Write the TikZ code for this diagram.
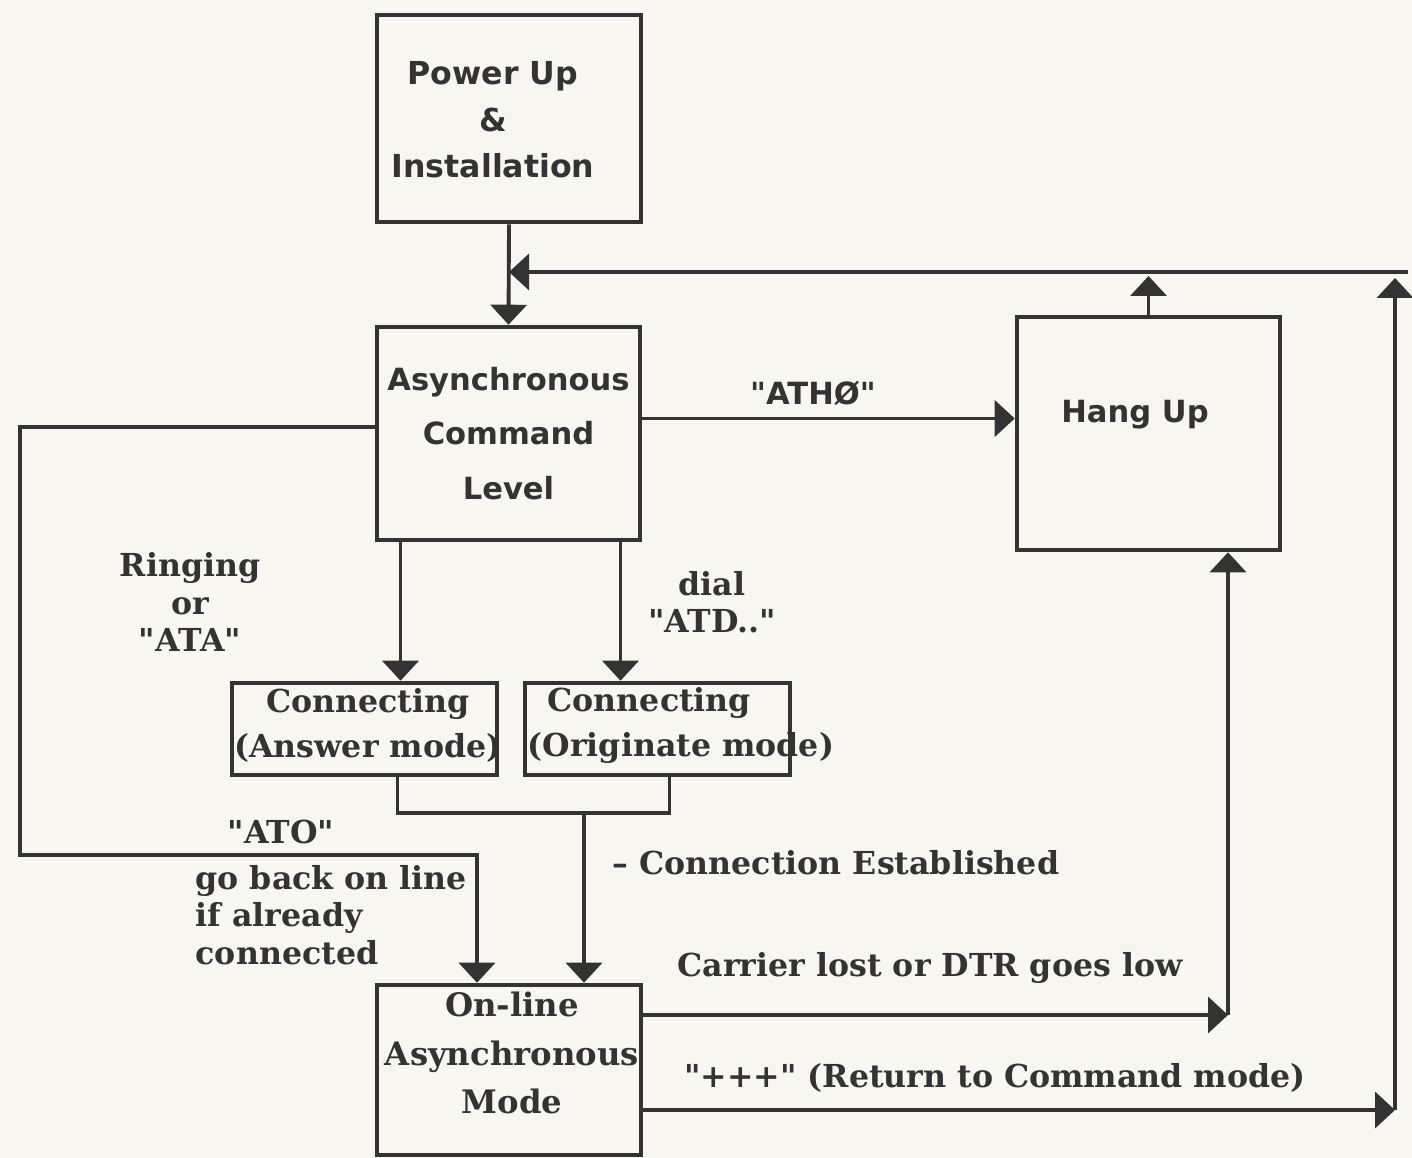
\documentclass[tikz,border=0pt]{standalone}
\usepackage{fontspec}
\newfontfamily\labelfont{DejaVu Serif}
\newfontfamily\boxsans{DejaVu Sans}
\usepackage{tikz}
\usetikzlibrary{arrows.meta, positioning, calc}
\definecolor{paper}{HTML}{F8F6F1}
\definecolor{ink}{HTML}{333333}
\tikzset{
  box/.style={draw=ink, line width=1.3pt, inner sep=0pt},
  wire/.style={draw=ink, line width=1.1pt},
  flow/.style={wire, -{Triangle[width=0.36cm,length=0.2cm]}},
  boxfont/.style={font=\fontsize{8.7}{15.5}\selectfont\boxsans\bfseries, text=ink, align=center, inner sep=0pt},
  lbl/.style={font=\fontsize{9}{10.6}\selectfont\labelfont\bfseries, text=ink, align=center, inner sep=0pt},
}

\begin{document}
\begin{tikzpicture}
  \fill[paper] (0,0) rectangle (14.12,-11.58);
  \useasboundingbox (0,0) rectangle (14.12,-11.58);

  % ===== boxes =====
  \node[box, minimum width=2.64cm, minimum height=2.07cm] (power) at (5.09,-1.185) {};
  \node[boxfont, font=\fontsize{9}{13.2}\selectfont\boxsans\bfseries] (powertxt) at (4.93,-1.20)
       {Power Up\\\&\\Installation};
  \node[box, boxfont, minimum width=2.63cm, minimum height=2.13cm] (acl) at (5.085,-4.335)
       {Asynchronous\\Command\\Level};
  \node[box, minimum width=2.63cm, minimum height=2.33cm] (hang) at (11.485,-4.335) {};
  \node[boxfont] (hangtxt) at (11.35,-4.15) {Hang Up};
  \node[box, minimum width=2.65cm, minimum height=0.92cm] (answer) at (3.645,-7.29) {};
  \node[box, minimum width=2.65cm, minimum height=0.92cm] (orig) at (6.575,-7.29) {};
  \node[box, minimum width=2.64cm, minimum height=1.70cm] (online) at (5.09,-10.70) {};

  % texts inside the lower boxes
  \node[lbl, font=\fontsize{9}{12.8}\selectfont\labelfont\bfseries] (answertxt) at (3.68,-7.25)
       {Connecting\\(Answer mode)};
  \node[lbl, font=\fontsize{9}{12.8}\selectfont\labelfont\bfseries, anchor=west, align=left]
       (origtxt) at (5.27,-7.25) {\hspace*{0.2cm}Connecting\\(Originate mode)};
  \node[lbl, font=\fontsize{9.2}{13.8}\selectfont\labelfont\bfseries] (onlinetxt) at (5.12,-10.53)
       {On-line\\Asynchronous\\Mode};

  % ===== corner points of the loops =====
  \coordinate (tr) at (13.95,-2.72);
  \coordinate (plus) at (13.95,-11.10);
  \coordinate (carrier) at (12.28,-10.15);
  \coordinate (merge) at (5.84,-8.13);
  \coordinate (atol) at (0.20,-8.55);

  % ===== connectors =====
  \draw[flow] (power.south) -- (acl.north);
  \draw[flow] ([xshift=0.13cm]tr) -- (tr -| power.south);
  \draw[flow] (hang.north) -- ([yshift=-0.04cm]hang.north |- tr);
  \draw[flow] ([yshift=0.15cm]acl.east) -- ([yshift=0.15cm]acl.east -| hang.west);
  \draw[flow] ([yshift=0.065cm]acl.west) -| (atol) -| ([xshift=-0.32cm]online.north);
  \draw[flow] ([xshift=-1.08cm]acl.south) -- ([xshift=-1.08cm]acl.south |- answer.north);
  \draw[flow] ([xshift=1.12cm]acl.south) -- ([xshift=1.12cm]acl.south |- orig.north);
  \draw[wire] ([xshift=0.33cm]answer.south) |- (merge) -| ([xshift=0.12cm]orig.south);
  \draw[flow] (merge) -- (merge |- online.north);
  \draw[flow] (online.east |- carrier) -- (carrier);
  \draw[flow] (carrier) -- (carrier |- hang.south);
  \draw[flow] (online.east |- plus) -- (plus);
  \draw[flow] (plus) -- ([yshift=-0.06cm]tr);

  % ===== labels =====
  \node[boxfont] (athlbl) at (8.13,-3.93) {"ATHØ"};
  \node[lbl] (ringlbl) at (1.90,-6.02) {Ringing\\or\\"ATA"};
  \node[lbl] (diallbl) at (7.12,-6.02) {dial\\"ATD.."};
  \node[lbl] (atolbl) at (2.81,-8.32) {"ATO"};
  \node[lbl, anchor=west, align=left] (golbl) at (1.95,-9.15)
       {go back on line\\if already\\connected};
  \node[lbl, anchor=west] (estlbl) at (6.12,-8.63) {– Connection Established};
  \node[lbl] (carrlbl) at (9.30,-9.68) {Carrier lost or DTR goes low};
  \node[lbl] (pluslbl) at (9.95,-10.78) {"+++" (Return to Command mode)};
\end{tikzpicture}
\end{document}
